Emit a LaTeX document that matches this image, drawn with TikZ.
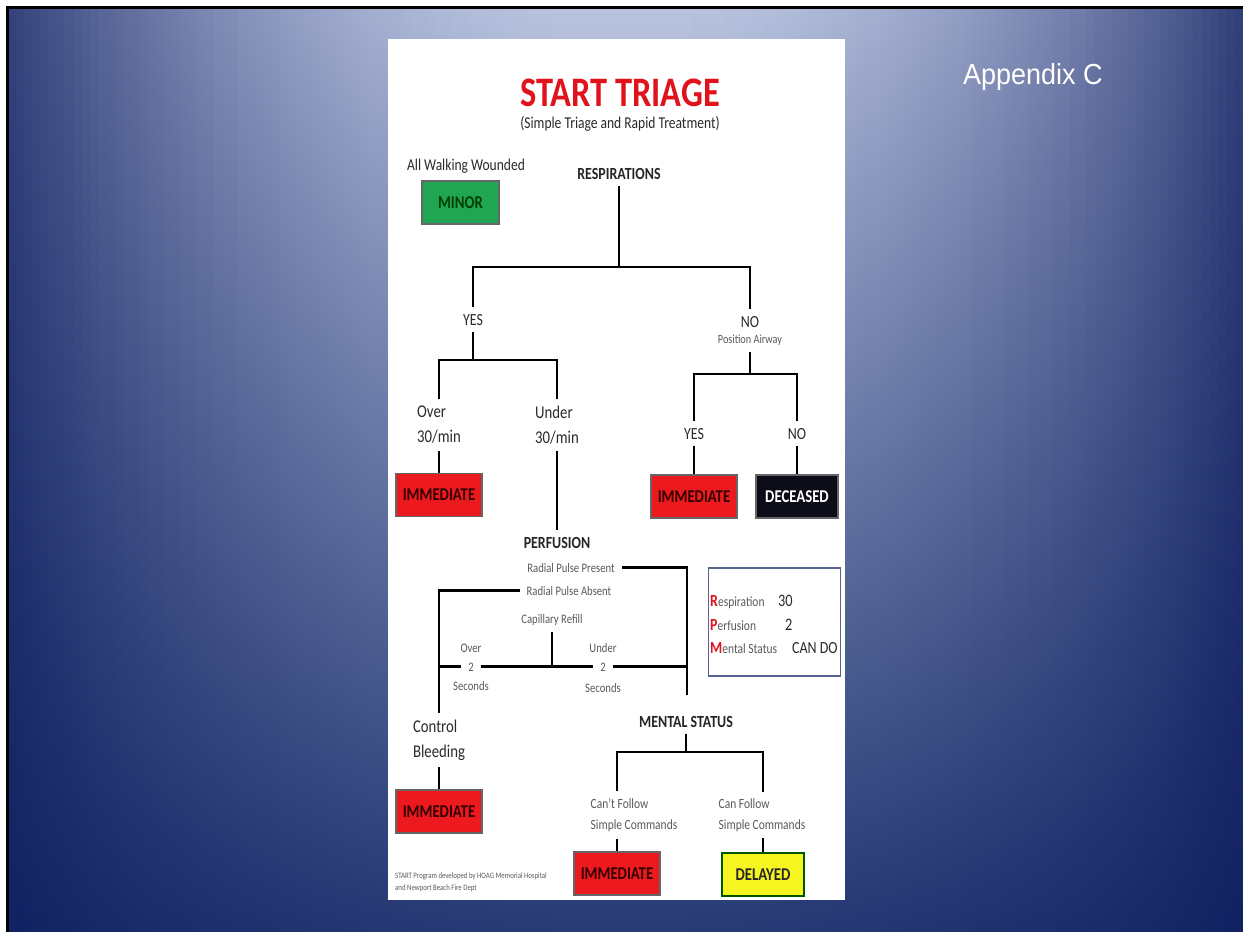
\documentclass[tikz,border=0pt]{standalone}
\usepackage{fontspec}
\setmainfont{Carlito}[FakeStretch=0.82]
\newfontfamily\appfont{Liberation Sans}[FakeStretch=0.93]

\definecolor{bgtop}{HTML}{B9C3E0}
\definecolor{bgmid}{HTML}{7085B9}
\definecolor{bgbot}{HTML}{263A75}
\definecolor{bgside}{HTML}{0A1A5C}
\definecolor{titlered}{HTML}{E0131D}
\definecolor{tagred}{HTML}{EC1A1E}
\definecolor{taggreen}{HTML}{20A553}
\definecolor{tagyellow}{HTML}{F6F51F}
\definecolor{tagblack}{HTML}{0C0C18}
\definecolor{inkdark}{HTML}{2A2A2A}
\definecolor{inkgray}{HTML}{5A5A5A}
\definecolor{rpmframe}{HTML}{56648F}

\newcommand{\fsz}[2]{\fontsize{#1}{#2}\selectfont}

\begin{document}
\begin{tikzpicture}[x=1pt,y=-1pt]
  \tikzstyle{BranchStyle}=[line width=2.8pt]
  \tikzstyle{LabelStyle}=[inner sep=2pt, outer sep=5pt, text=inkdark]
  \tikzstyle{HeadStyle}=[LabelStyle, font=\bfseries\fsz{17}{19}, text=black!85]
  \tikzstyle{NoteStyle}=[LabelStyle, text=inkgray]
  \tikzstyle{TagStyle}=[draw=black!60, line width=1.4pt, minimum width=86pt,
                        minimum height=43pt, inner sep=0pt, font=\bfseries\fsz{18}{18}]

  \useasboundingbox (0,0) rectangle (1243,932);
  % slide backdrop, darker towards both sides
  \fill[white] (0,0) rectangle (1243,932);
  \foreach \i in {0,...,149} {
    \pgfmathsetmacro{\xl}{8+\i*8.2333}
    \pgfmathsetmacro{\xr}{\xl+8.9}
    \pgfmathsetmacro{\dd}{abs(\xl+4.12-625)/617}
    \pgfmathtruncatemacro{\aa}{min(78,78*\dd*\dd)}
    \shade[top color=bgside!\aa!bgtop, middle color=bgside!\aa!bgmid,
           bottom color=bgside!\aa!bgbot] (\xl,8) rectangle (\xr,932);
  }
  \draw[line width=3pt] (7.5,932) -- (7.5,7.5) -- (1243,7.5);
  \node[anchor=base west, inner sep=0pt, text=white, font=\appfont\fsz{29}{30}] (appx) at (963,84) {Appendix C};

  % chart sheet
  \fill[white] (388,39) rectangle (845,900);
  \node[anchor=base, inner sep=0pt, text=titlered, font=\bfseries\fsz{42}{42}] (title) at (620,106) {START TRIAGE};
  \node[anchor=base, inner sep=0pt, text=inkdark, font=\fsz{16.5}{17}] (subtitle) at (620,128) {(Simple Triage and Rapid Treatment)};

  \node[LabelStyle, anchor=base, font=\fsz{16.5}{18}] (walk) at (466,170) {All Walking Wounded};
  \node[TagStyle, fill=taggreen, text=black!75!green, minimum width=77pt] (minor) at (460.5,202.5) {MINOR};
  \node[HeadStyle, anchor=base] (resp) at (619,179) {RESPIRATIONS};

  \node[LabelStyle, anchor=base, font=\fsz{17}{18}] (yes1) at (473,325) {YES};
  \node[LabelStyle, anchor=base, font=\fsz{17}{18}] (no1) at (750,327) {NO};
  \node[NoteStyle, anchor=base, font=\fsz{12.5}{13}] (airway) at (750,343) {Position Airway};

  \node[LabelStyle, align=left, font=\fsz{18}{25}] (over30) at (439,425) {Over\\30/min};
  \node[LabelStyle, align=left, font=\fsz{18}{25}] (under30) at (557,425) {Under\\30/min};
  \node[LabelStyle, anchor=base, font=\fsz{17}{18}] (yes2) at (694,439) {YES};
  \node[LabelStyle, anchor=base, font=\fsz{17}{18}] (no2) at (797,439) {NO};

  \node[TagStyle, fill=tagred, text=black!80!red] (imm1) at (439,495) {IMMEDIATE};
  \node[TagStyle, fill=tagred, text=black!80!red] (imm2) at (694,496.5) {IMMEDIATE};
  \node[TagStyle, fill=tagblack, text=white, minimum width=82pt] (dec) at (797,496.5) {DECEASED};

  \node[HeadStyle, anchor=base] (perf) at (557,548) {PERFUSION};
  \node[NoteStyle, anchor=base, font=\fsz{13}{14}] (rpp) at (571,572) {Radial Pulse Present};
  \node[NoteStyle, anchor=base, font=\fsz{13}{14}] (rpa) at (569,595) {Radial Pulse Absent};
  \node[NoteStyle, anchor=base, font=\fsz{13}{14}] (cap) at (552,623) {Capillary Refill};

  \node[NoteStyle, anchor=base, font=\fsz{13}{14}] (over2a) at (471,652) {Over};
  \node[NoteStyle, anchor=base, font=\fsz{13}{14}] (two1) at (471,671) {2};
  \node[NoteStyle, anchor=base, font=\fsz{13}{14}] (over2b) at (471,690) {Seconds};
  \node[NoteStyle, anchor=base, font=\fsz{13}{14}] (under2a) at (603,652) {Under};
  \node[NoteStyle, anchor=base, font=\fsz{13}{14}] (two2) at (603,671) {2};
  \node[NoteStyle, anchor=base, font=\fsz{13}{14}] (under2b) at (603,692) {Seconds};

  \node[LabelStyle, align=left, font=\fsz{18}{25}] (ctrl) at (439,740) {Control\\Bleeding};
  \node[TagStyle, fill=tagred, text=black!80!red] (imm3) at (439,811.5) {IMMEDIATE};

  \node[HeadStyle, anchor=base] (ment) at (686,727) {MENTAL STATUS};
  \node[NoteStyle, align=left, font=\fsz{14}{21}] (cant) at (634,815) {Can't Follow\\Simple Commands};
  \node[NoteStyle, align=left, font=\fsz{14}{21}] (canf) at (762,815) {Can Follow\\Simple Commands};
  \node[TagStyle, fill=tagred, text=black!80!red] (imm4) at (617,873.5) {IMMEDIATE};
  \node[TagStyle, fill=tagyellow, text=black!85, draw=black!45!green!60!black, minimum width=82pt] (dly) at (763,874.5) {DELAYED};

  % memory aid
  \node[draw=rpmframe, line width=1.5pt, minimum width=132pt, minimum height=108pt] (rpm) at (774.5,622) {};
  \node[anchor=base west, inner sep=0pt] (rowr) at (710,606) {\textcolor{titlered}{\bfseries\fsz{17}{17}R}\textcolor{inkgray}{\fsz{14}{14}espiration}};
  \node[anchor=base west, inner sep=0pt] (rowp) at (710,630) {\textcolor{titlered}{\bfseries\fsz{17}{17}P}\textcolor{inkgray}{\fsz{14}{14}erfusion}};
  \node[anchor=base west, inner sep=0pt] (rowm) at (710,653) {\textcolor{titlered}{\bfseries\fsz{17}{17}M}\textcolor{inkgray}{\fsz{14}{14}ental Status}};
  \node[anchor=base west, inner sep=0pt, text=inkdark, font=\fsz{17.5}{18}] (valr) at (778,606) {30};
  \node[anchor=base west, inner sep=0pt, text=inkdark, font=\fsz{17.5}{18}] (valp) at (785,630) {2};
  \node[anchor=base west, inner sep=0pt, text=inkdark, font=\fsz{17}{18}] (valm) at (792,653) {CAN DO};

  \node[anchor=north west, inner sep=0pt, align=left, text=inkgray, font=\fsz{8.3}{12}] (credit) at (395,873) {START Program developed by HOAG Memorial Hospital\\and Newport Beach Fire Dept};

  \coordinate (r0) at (619,267);
  \coordinate (y0) at (473,360);
  \coordinate (n0) at (750,374);
  \coordinate (p2) at (687,695);
  \coordinate (m0) at (686,752);

  \draw[BranchStyle] (resp) -- (r0);
  \draw[BranchStyle] (yes1) |- (r0) -| (no1);
  \draw[BranchStyle] (yes1) -- (y0);
  \draw[BranchStyle] (over30) |- (y0) -| (under30);
  \draw[BranchStyle] (over30) -- (imm1);
  \draw[BranchStyle] (under30) -- (perf);
  \draw[BranchStyle] (airway) -- (n0);
  \draw[BranchStyle] (yes2) |- (n0) -| (no2);
  \draw[BranchStyle] (yes2) -- (imm2);
  \draw[BranchStyle] (no2) -- (dec);

  \draw[BranchStyle] (rpp.east) -| (p2);
  \draw[BranchStyle] (rpa.west) -| (ctrl);
  \draw[BranchStyle] (cap) -- (cap |- two1);
  \draw[BranchStyle] (two1) -- (two2);
  \draw[BranchStyle] (two1) -- (two1 -| ctrl);
  \draw[BranchStyle] (two2) -- (two2 -| p2);
  \draw[BranchStyle] (ctrl) -- (imm3);

  \draw[BranchStyle] (ment) -- (m0);
  \draw[BranchStyle] (cant.north -| imm4) |- (m0) -| (canf.north -| dly);
  \draw[BranchStyle] (cant.south -| imm4) -- (imm4);
  \draw[BranchStyle] (canf.south -| dly) -- (dly);
\end{tikzpicture}
\end{document}
